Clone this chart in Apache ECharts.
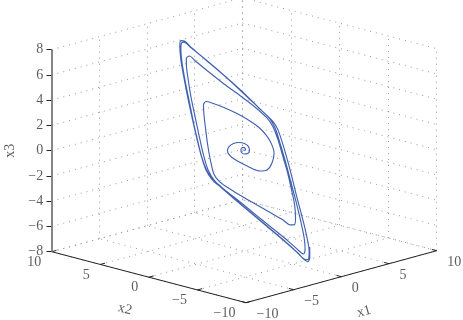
<!DOCTYPE html>
<html>
<head>
<meta charset="utf-8">
<script src="https://cdn.jsdelivr.net/npm/echarts@6/dist/echarts.min.js"></script>
<style>
  html, body { margin: 0; padding: 0; background: #fff; }
  #chart { width: 463px; height: 320px; }
</style>
</head>
<body>
<div id="chart"></div>
<script>
// tick values of the three axes
var x1Ticks = [-10, -5, 0, 5, 10];
var x2Ticks = [-10, -5, 0, 5, 10];
var x3Ticks = [-8, -6, -4, -2, 0, 2, 4, 6, 8];

// trajectory (spiral out of the origin onto the outer loop)
var x1Data = [
  -0.04, 0.07, 0.10, 0.01, -0.15, -0.20, -0.11, 0.09, 0.27, 0.32,
  0.19, -0.07, -0.38, -0.69, -0.88, -0.89, -0.72, -0.42, -0.07, 0.28,
  0.67, 1.11, 1.48, 1.58, 1.53, 1.36, 1.06, 0.62, 0.06, -0.45,
  -0.72, -0.94, -1.17, -1.43, -1.72, -2.01, -2.19, -2.08, -1.75, -1.28,
  -0.76, -0.24, 0.20, 0.44, 0.64, 0.90, 1.19, 1.42, 1.66, 1.84,
  2.02, 2.10, 2.02, 1.68, 1.20, 0.67, 0.20, -0.20, -0.39, -0.62,
  -0.81, -1.04, -1.36, -1.67, -1.95, -2.24, -2.39, -2.34, -2.06, -1.56,
  -1.07, -0.58, -0.08, 0.23, 0.38, 0.59, 0.83, 1.06, 1.32, 1.58,
  1.84, 2.05, 2.18, 2.15, 1.81, 1.36, 0.84, 0.33, -0.10, -0.32,
  -0.47, -0.68, -0.99, -1.33, -1.64, -1.95, -2.19, -2.39, -2.47, -2.39,
  -2.14, -1.72, -1.24, -0.76, -0.28, 0.12, 0.32, 0.51, 0.75, 0.98,
  1.22, 1.50, 1.84, 2.12, 2.28, 2.23, 1.86, 1.40, 0.89, 0.36,
  -0.06, -0.26, -0.43, -0.63, -0.94, -1.28, -1.64, -1.95, -2.19, -2.39,
  -2.50, -2.43, -2.17, -1.76, -1.28, -0.80, -0.32, 0.09, 0.28, 0.40,
  0.61, 0.88
];
var x2Data = [
  0.03, -0.06, 0.01, 0.13, 0.19, 0.08, -0.09, -0.26, -0.28, -0.13,
  0.16, 0.47, 0.73, 0.88, 0.86, 0.64, 0.24, -0.29, -0.88, -1.35,
  -1.69, -1.77, -1.62, -1.21, -0.74, -0.19, 0.45, 1.25, 2.15, 2.89,
  3.23, 3.27, 2.99, 2.58, 2.10, 1.51, 0.96, 0.44, -0.25, -1.14,
  -2.07, -3.00, -3.80, -4.30, -4.50, -4.40, -4.02, -3.48, -2.84, -2.19,
  -1.50, -0.90, -0.36, 0.55, 1.62, 2.74, 3.83, 4.78, 5.25, 5.35,
  5.15, 4.77, 4.16, 3.43, 2.74, 1.99, 1.37, 0.80, 0.06, -1.11,
  -2.28, -3.43, -4.61, -5.43, -5.74, -5.69, -5.36, -4.82, -4.10, -3.28,
  -2.45, -1.67, -1.03, -0.54, 0.47, 1.77, 3.12, 4.37, 5.40, 5.90,
  6.00, 5.85, 5.39, 4.69, 3.97, 3.25, 2.61, 1.99, 1.40, 0.85,
  0.19, -0.85, -2.02, -3.20, -4.38, -5.42, -5.96, -6.12, -5.95, -5.51,
  -4.87, -3.97, -2.97, -2.01, -1.24, -0.72, 0.31, 1.60, 2.97, 4.29,
  5.33, 5.89, 6.09, 6.01, 5.59, 4.90, 4.08, 3.30, 2.66, 2.04,
  1.48, 0.92, 0.24, -0.78, -1.96, -3.14, -4.32, -5.37, -5.94, -6.15,
  -6.15, -5.88
];
var x3Data = [
  -0.02, 0.01, 0.15, 0.19, 0.05, -0.16, -0.26, -0.23, -0.02, 0.25,
  0.46, 0.53, 0.46, 0.25, -0.02, -0.33, -0.64, -0.95, -1.26, -1.43,
  -1.36, -0.88, -0.19, 0.50, 1.05, 1.56, 2.01, 2.49, 2.94, 3.25,
  3.35, 3.11, 2.42, 1.53, 0.50, -0.67, -1.64, -2.19, -2.67, -3.22,
  -3.77, -4.32, -4.80, -5.14, -5.14, -4.66, -3.77, -2.74, -1.57, -0.47,
  0.70, 1.60, 2.21, 2.97, 3.76, 4.55, 5.38, 6.10, 6.48, 6.31,
  5.79, 4.97, 3.73, 2.35, 1.05, -0.33, -1.36, -2.05, -2.67, -3.56,
  -4.46, -5.35, -6.25, -6.93, -7.14, -6.80, -6.04, -5.01, -3.70, -2.26,
  -0.81, 0.50, 1.53, 2.15, 3.04, 4.17, 5.28, 6.27, 7.06, 7.44,
  7.37, 6.89, 5.86, 4.48, 3.11, 1.73, 0.56, -0.54, -1.43, -2.05,
  -2.60, -3.43, -4.35, -5.28, -6.21, -7.07, -7.52, -7.48, -6.93, -6.04,
  -4.87, -3.29, -1.50, 0.15, 1.39, 2.01, 2.90, 4.00, 5.14, 6.20,
  7.03, 7.51, 7.54, 7.17, 6.20, 4.83, 3.25, 1.80, 0.63, -0.47,
  -1.36, -2.02, -2.57, -3.39, -4.32, -5.25, -6.18, -7.04, -7.55, -7.66,
  -7.38, -6.66
];

// 3d view: where the origin lands and one unit step along x1, x2, x3
var ORG = [244.2, 150.2];
var E1 = [9.535, -2.6], E2 = [-9.715, -2.55], E3 = [0, -12.625];
function proj(a, b, c) {
  return [ORG[0] + a * E1[0] + b * E2[0] + c * E3[0],
          ORG[1] + a * E1[1] + b * E2[1] + c * E3[1]];
}

var lo1 = x1Ticks[0], hi1 = x1Ticks[x1Ticks.length - 1];
var lo2 = x2Ticks[0], hi2 = x2Ticks[x2Ticks.length - 1];
var lo3 = x3Ticks[0], hi3 = x3Ticks[x3Ticks.length - 1];

// dotted grid on the two back walls and the floor
var gridLines = [];
x3Ticks.forEach(function (z) {
  gridLines.push({coords: [proj(lo1, hi2, z), proj(hi1, hi2, z)]});
  gridLines.push({coords: [proj(hi1, hi2, z), proj(hi1, lo2, z)]});
});
x1Ticks.forEach(function (a) {
  gridLines.push({coords: [proj(a, hi2, lo3), proj(a, hi2, hi3)]});
  gridLines.push({coords: [proj(a, lo2, lo3), proj(a, hi2, lo3)]});
});
x2Ticks.forEach(function (b) {
  gridLines.push({coords: [proj(hi1, b, lo3), proj(hi1, b, hi3)]});
  gridLines.push({coords: [proj(lo1, b, lo3), proj(hi1, b, lo3)]});
});

// axis lines and tick marks
var floorAxes = [
  {coords: [proj(lo1, lo2, lo3), proj(lo1, hi2, lo3)]},
  {coords: [proj(lo1, lo2, lo3), proj(hi1, lo2, lo3)]}
];
var tickMarks = [];
x2Ticks.forEach(function (b) {
  tickMarks.push({coords: [proj(lo1, b, lo3), proj(lo1 + 0.5, b, lo3)]});
});
x1Ticks.forEach(function (a) {
  tickMarks.push({coords: [proj(a, lo2, lo3), proj(a, lo2 + 0.5, lo3)]});
});
x3Ticks.forEach(function (z) {
  tickMarks.push({coords: [proj(lo1 - 0.27, hi2 + 0.27, z), proj(lo1, hi2, z)]});
});

function fmt(v) { return String(v).replace('-', '\u2212'); }
var font = 'Liberation Serif';
var txt = '#333';

function labelSeries(points, values, label) {
  return {
    type: 'scatter', symbolSize: 0, silent: true, z: 5,
    data: points.map(function (p, i) { return {value: p, name: fmt(values[i])}; }),
    label: Object.assign({show: true, formatter: '{b}', color: txt,
      fontFamily: font, fontSize: 14, verticalAlign: 'middle'}, label)
  };
}

var trajectory = x1Data.map(function (v, i) { return proj(v, x2Data[i], x3Data[i]); });

var chart = echarts.init(document.getElementById('chart'));
chart.setOption({
  animation: false,
  backgroundColor: '#fff',
  grid: {left: 0, right: 0, top: 0, bottom: 0},
  xAxis: {type: 'value', min: 0, max: 463, show: false},
  yAxis: {type: 'value', min: 0, max: 320, inverse: true, show: false},
  series: [
    {
      type: 'lines', coordinateSystem: 'cartesian2d', silent: true, z: 1,
      data: gridLines,
      lineStyle: {color: '#999', width: 1, type: [1, 5], opacity: 1}
    },
    {
      type: 'lines', coordinateSystem: 'cartesian2d', silent: true, z: 3,
      data: floorAxes.concat(tickMarks),
      lineStyle: {color: '#222', width: 1, opacity: 1}
    },
    {
      type: 'lines', coordinateSystem: 'cartesian2d', silent: true, z: 3,
      data: [{coords: [proj(lo1, hi2, lo3), proj(lo1, hi2, hi3)]}],
      lineStyle: {color: '#7a7a7a', width: 1.8, opacity: 1}
    },
    {
      type: 'line', z: 4, silent: true,
      data: trajectory,
      showSymbol: false, smooth: 0.3,
      lineStyle: {color: '#4262b0', width: 1.15}
    },
    labelSeries(x3Ticks.map(function (z) { return proj(lo1, hi2, z); }), x3Ticks,
      {position: [-8.5, 0], align: 'right'}),
    labelSeries(x2Ticks.map(function (b) { return proj(lo1, b, lo3); }), x2Ticks,
      {position: [-10.5, 10.5], align: 'right'}),
    labelSeries(x1Ticks.map(function (a) { return proj(a, lo2, lo3); }), x1Ticks,
      {position: [10.5, 11.5], align: 'left'}),
    {
      type: 'scatter', symbolSize: 0, silent: true, z: 5,
      data: [
        {value: proj(lo1, hi2, 0), name: 'x3',
         label: {position: [-41, 0], rotate: 90}},
        {value: proj(lo1, 0, lo3), name: 'x2',
         label: {position: [-24, 32], rotate: -14.7}},
        {value: proj(0, lo2, lo3), name: 'x1',
         label: {position: [22.6, 35], rotate: 15.3}}
      ],
      label: {show: true, formatter: '{b}', color: txt, fontFamily: font,
        fontSize: 14, align: 'center', verticalAlign: 'middle'}
    }
  ]
});
</script>
</body>
</html>
